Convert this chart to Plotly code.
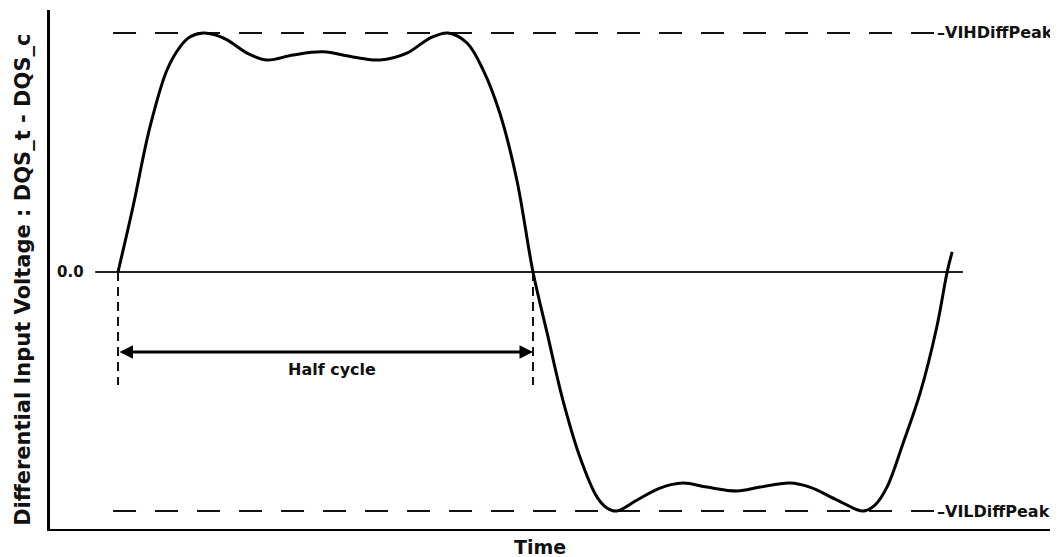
import plotly.graph_objects as go

# ---- data (time normalised to one half cycle, voltage normalised to the peak) ----
time = [0.000, 0.036, 0.077, 0.118, 0.149, 0.173, 0.205, 0.234, 0.263, 0.311, 0.359,
        0.422, 0.494, 0.566, 0.631, 0.696, 0.752, 0.795, 0.841, 0.880, 0.920, 0.961,
        1.000, 1.034, 1.072, 1.113, 1.154, 1.178, 1.202, 1.251, 1.306, 1.361, 1.419,
        1.492, 1.547, 1.619, 1.667, 1.733, 1.795, 1.824, 1.853, 1.892, 1.933, 1.973,
        1.998, 2.010]
voltage = [0.000, 0.272, 0.607, 0.845, 0.941, 0.983, 1.000, 0.992, 0.971, 0.916, 0.887,
           0.908, 0.921, 0.900, 0.887, 0.916, 0.979, 1.000, 0.958, 0.845, 0.665, 0.385,
           0.000, -0.255, -0.536, -0.774, -0.941, -0.987, -1.000, -0.954, -0.904, -0.883,
           -0.900, -0.916, -0.900, -0.883, -0.900, -0.954, -1.000, -0.975, -0.900, -0.715,
           -0.506, -0.230, 0.000, 0.084]

vih_level = 1.0
vil_level = -1.0
peak_line_x = [-0.012, 1.998]
zero_line_x = [-0.055, 2.036]
half_cycle_marks = [0.0, 1.0]
mark_bottom = -0.473
arrow_level = -0.335
half_cycle_label_level = -0.41

label_vih = "\u2013VIHDiffPeak"
label_vil = "\u2013VILDiffPeak"
label_zero = "0.0"
label_half = "Half cycle"
x_title = "Time"
y_title = "Differential Input Voltage : DQS_t - DQS_c"

FONT = "DejaVu Sans"
INK = "#111111"

fig = go.Figure()

# peak reference dashed lines
for lvl in (vih_level, vil_level):
    fig.add_trace(go.Scatter(x=peak_line_x, y=[lvl, lvl], mode="lines",
                             line=dict(color=INK, width=2, dash="23px,19px"),
                             hoverinfo="skip"))

# zero line
fig.add_trace(go.Scatter(x=zero_line_x, y=[0, 0], mode="lines",
                         line=dict(color="#222222", width=2), hoverinfo="skip"))

# half-cycle vertical markers
for xm in half_cycle_marks:
    fig.add_trace(go.Scatter(x=[xm, xm], y=[0, mark_bottom], mode="lines",
                             line=dict(color=INK, width=2, dash="9px,6px"),
                             hoverinfo="skip"))

# waveform
fig.add_trace(go.Scatter(x=time, y=voltage, mode="lines",
                         line=dict(color="#000000", width=3, shape="spline", smoothing=1.0),
                         hoverinfo="skip"))

annotations = [
    # double arrow for half cycle
    dict(x=half_cycle_marks[1], y=arrow_level, ax=half_cycle_marks[0], ay=arrow_level,
         xref="x", yref="y", axref="x", ayref="y", text="", showarrow=True,
         arrowhead=2, arrowside="end+start", arrowwidth=3, arrowsize=0.9,
         arrowcolor="#000000", standoff=0, startstandoff=0),
    dict(x=0.516, y=half_cycle_label_level, xref="x", yref="y",
         text=label_half, showarrow=False, xanchor="center", yanchor="middle",
         font=dict(family=FONT, size=16, color=INK, weight="bold")),
    dict(x=peak_line_x[1] - 0.03, y=vih_level, xref="x", yref="y", text=label_vih,
         showarrow=False, xanchor="left", yanchor="middle",
         font=dict(family=FONT, size=16, color=INK, weight="bold")),
    dict(x=peak_line_x[1] - 0.03, y=vil_level, xref="x", yref="y", text=label_vil,
         showarrow=False, xanchor="left", yanchor="middle",
         font=dict(family=FONT, size=16, color=INK, weight="bold")),
    dict(x=-0.077, y=0, xref="x", yref="y", text=label_zero, showarrow=False,
         xanchor="right", yanchor="middle",
         font=dict(family=FONT, size=15, color=INK, weight="bold")),
    dict(x=0.486, y=-0.035, xref="paper", yref="paper", text=x_title, showarrow=False,
         xanchor="center", yanchor="middle",
         font=dict(family=FONT, size=19, color=INK, weight="bold")),
    dict(x=-0.0268, y=0.48, xref="paper", yref="paper", text=y_title, showarrow=False,
         textangle=-90, xanchor="center", yanchor="middle",
         font=dict(family=FONT, size=21, color=INK, weight="bold")),
]

fig.update_layout(
    width=1050, height=549, autosize=False,
    margin=dict(l=42, r=0, t=2, b=28),
    paper_bgcolor="white", plot_bgcolor="white",
    showlegend=False,
    annotations=annotations,
    xaxis=dict(range=[-0.1639, 2.2651], showgrid=False, zeroline=False,
               showticklabels=False, ticks="", showline=True, linewidth=2,
               linecolor="#000000", fixedrange=True),
    yaxis=dict(range=[-1.0753, 1.0962], showgrid=False, zeroline=False,
               showticklabels=False, ticks="", showline=True, linewidth=3,
               linecolor="#000000", fixedrange=True),
)

fig.write_html("out.html")
